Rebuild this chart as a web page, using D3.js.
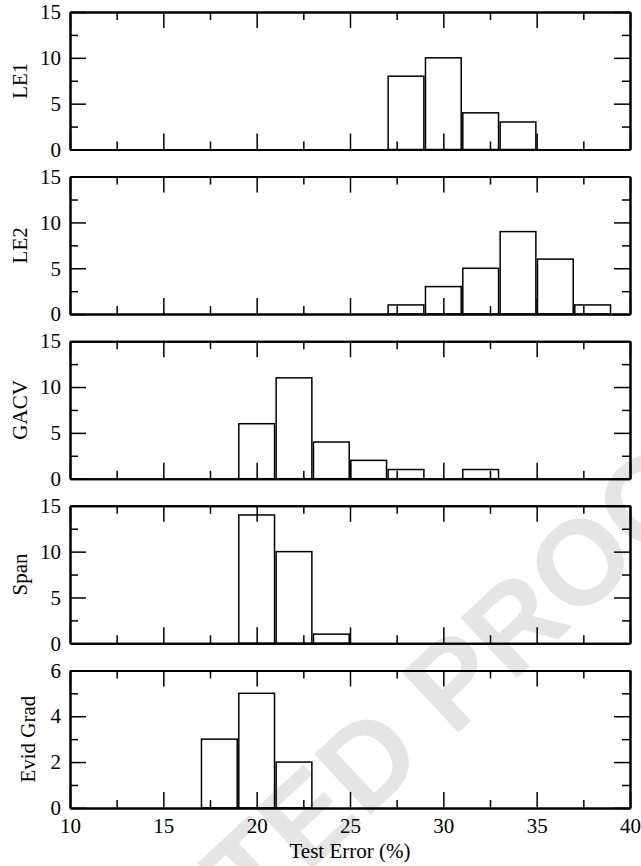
<!DOCTYPE html>
<html>
<head>
<meta charset="utf-8">
<script src="https://cdn.jsdelivr.net/npm/d3@7"></script>
<style>
  body { margin: 0; background: #fff; }
  svg { display: block; }
</style>
</head>
<body>
<svg id="chart" width="641" height="866"></svg>
<script>
// histogram of test error, one panel per method

// panel names (y labels)
const methods = ["LE1", "LE2", "GACV", "Span", "Evid Grad"];

// left edge of each 2%-wide bin and its count
const le1Bins = [27, 29, 31, 33];
const le1Counts = [8, 10, 4, 3];
const le2Bins = [27, 29, 31, 33, 35, 37];
const le2Counts = [1, 3, 5, 9, 6, 1];
const gacvBins = [19, 21, 23, 25, 27, 31];
const gacvCounts = [6, 11, 4, 2, 1, 1];
const spanBins = [19, 21, 23];
const spanCounts = [14, 10, 1];
const evidBins = [17, 19, 21];
const evidCounts = [3, 5, 2];

const binWidth = 2;

// y axis tops and ticks per panel
const yMaxes = [15, 15, 15, 15, 6];
const yMajor = [[0, 5, 10, 15], [0, 5, 10, 15], [0, 5, 10, 15], [0, 5, 10, 15], [0, 2, 4, 6]];
const yMinor = [[2.5, 7.5, 12.5], [2.5, 7.5, 12.5], [2.5, 7.5, 12.5], [2.5, 7.5, 12.5], [1, 3, 5]];

// x axis ticks
const xMajor = [10, 15, 20, 25, 30, 35, 40];
const xMinor = [12.5, 17.5, 22.5, 27.5, 32.5, 37.5];

const allBins = [le1Bins, le2Bins, gacvBins, spanBins, evidBins];
const allCounts = [le1Counts, le2Counts, gacvCounts, spanCounts, evidCounts];

const serif = "Liberation Serif, Times New Roman, serif";
const fmt = d3.format("d");

const svg = d3.select("#chart");

// watermark behind everything
svg.append("text")
    .attr("transform", "translate(355,829) rotate(-43)")
    .attr("text-anchor", "middle")
    .attr("font-family", "Liberation Sans, Arial, sans-serif")
    .attr("font-weight", "bold")
    .attr("font-size", "120px")
    .attr("fill", "#e5e5e5")
    .text("ACCEPTED PROOF");

// layout
const left = 70, right = 630;
const firstTop = 12, panelH = 137.5, panelStep = 164.6;

const xScale = d3.scaleLinear().domain([10, 40]).range([left, right]);

methods.forEach((name, i) => {
    const top = firstTop + i * panelStep;
    const bottom = top + panelH;
    const yScale = d3.scaleLinear().domain([0, yMaxes[i]]).range([bottom, top]);

    const g = svg.append("g");

    // bars
    const bars = allBins[i].map((lo, j) => ({lo: lo, n: allCounts[i][j]}));
    g.selectAll("rect")
        .data(bars)
        .enter()
        .append("rect")
        .attr("x", d => xScale(d.lo) + 0.8)
        .attr("width", d => xScale(d.lo + binWidth) - xScale(d.lo) - 1.6)
        .attr("y", d => yScale(d.n))
        .attr("height", d => yScale(0) - yScale(d.n))
        .attr("fill", "none")
        .attr("stroke", "#000")
        .attr("stroke-width", 1.5);

    const isLast = i === methods.length - 1;

    // major ticks, pointing inward on all four sides
    const bottomAxis = d3.axisBottom(xScale).tickValues(xMajor).tickSize(-16).tickSizeOuter(0).tickPadding(10);
    bottomAxis.tickFormat(isLast ? fmt : "");
    g.append("g").attr("transform", `translate(0,${bottom})`).call(bottomAxis);
    g.append("g").attr("transform", `translate(0,${top})`)
        .call(d3.axisTop(xScale).tickValues(xMajor).tickSize(-16).tickSizeOuter(0).tickFormat(""));
    g.append("g").attr("transform", `translate(${left},0)`)
        .call(d3.axisLeft(yScale).tickValues(yMajor[i]).tickSize(-16).tickSizeOuter(0).tickPadding(9).tickFormat(fmt));
    g.append("g").attr("transform", `translate(${right},0)`)
        .call(d3.axisRight(yScale).tickValues(yMajor[i]).tickSize(-16).tickSizeOuter(0).tickFormat(""));

    // minor ticks
    g.append("g").attr("transform", `translate(0,${bottom})`)
        .call(d3.axisBottom(xScale).tickValues(xMinor).tickSize(-8).tickSizeOuter(0).tickFormat(""));
    g.append("g").attr("transform", `translate(0,${top})`)
        .call(d3.axisTop(xScale).tickValues(xMinor).tickSize(-8).tickSizeOuter(0).tickFormat(""));
    g.append("g").attr("transform", `translate(${left},0)`)
        .call(d3.axisLeft(yScale).tickValues(yMinor[i]).tickSize(-8).tickSizeOuter(0).tickFormat(""));
    g.append("g").attr("transform", `translate(${right},0)`)
        .call(d3.axisRight(yScale).tickValues(yMinor[i]).tickSize(-8).tickSizeOuter(0).tickFormat(""));

    g.selectAll(".domain").attr("stroke", "#000").attr("stroke-width", 2);
    g.selectAll(".tick line").attr("stroke", "#000").attr("stroke-width", 1.5);
    g.selectAll(".tick text")
        .attr("font-family", serif)
        .attr("font-size", "21px")
        .attr("fill", "#000");

    // y label
    const labelX = yMaxes[i] >= 10 ? 27 : 35;
    g.append("text")
        .attr("transform", `translate(${labelX},${(top + bottom) / 2}) rotate(-90)`)
        .attr("text-anchor", "middle")
        .attr("font-family", serif)
        .attr("font-size", "21px")
        .text(name);
});

// x axis title
svg.append("text")
    .attr("x", (left + right) / 2)
    .attr("y", 858)
    .attr("text-anchor", "middle")
    .attr("font-family", serif)
    .attr("font-size", "21px")
    .text("Test Error (%)");
</script>
</body>
</html>
